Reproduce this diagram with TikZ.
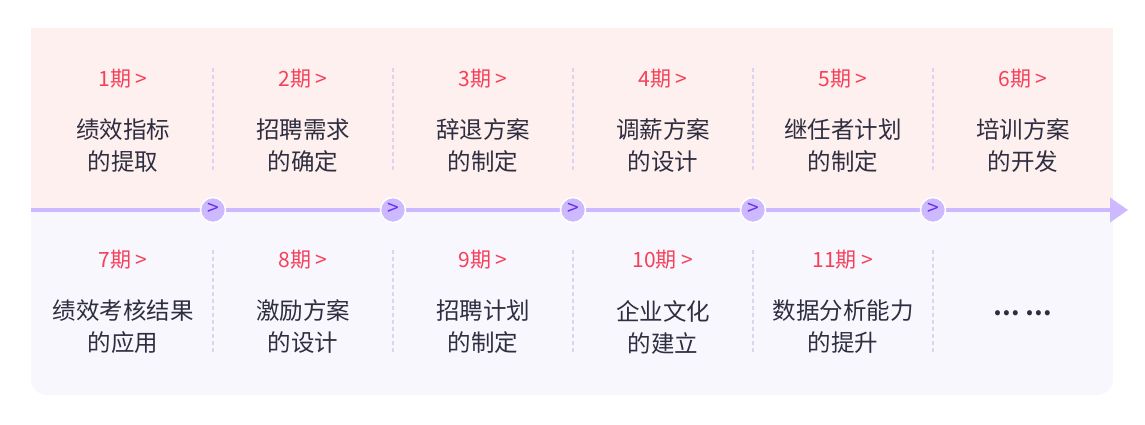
\documentclass[tikz,border=0pt]{standalone}
\usepackage{fontspec}
\setmainfont{Noto Sans CJK SC}
\usetikzlibrary{arrows.meta}
\definecolor{topbg}{HTML}{FEF0EE}
\definecolor{botbg}{HTML}{F8F7FE}
\definecolor{axis}{HTML}{CDB9FF}
\definecolor{chev}{HTML}{6A2FF0}
\definecolor{redt}{HTML}{F5405A}
\definecolor{txt}{HTML}{2E2E40}
\definecolor{sep}{HTML}{DCD2F2}
\begin{document}
\begin{tikzpicture}[x=1pt,y=-1pt,
  lbl/.style={text=redt,font=\fontsize{21}{24}\selectfont,inner sep=0pt},
  body/.style={text=txt,font=\fontsize{23.5}{32}\selectfont,align=center,inner sep=0pt},
  sepline/.style={draw=sep,line width=1.2pt,dash pattern=on 4pt off 3pt},
  dot/.style={circle,fill=axis,draw=white,line width=1.5pt,minimum size=25pt,inner sep=0pt,text=chev,font=\fontsize{21}{21}\selectfont}]
\useasboundingbox (0,0) rectangle (1145,424);
\fill[botbg,rounded corners=16pt] (31,200) rectangle (1113,395);
\fill[botbg] (31,200) rectangle (1113,230);
\fill[topbg] (31,28) rectangle (1113,210);
\coordinate (s) at (31,210);
\coordinate (e) at (1128,210);
\draw[axis,line width=4pt,-{Triangle[length=18pt,width=24pt]}] (s) -- (e);
\foreach \x in {213,393,573,753,933}{
  \draw[sepline] (\x,68) -- (\x,172);
  \draw[sepline] (\x,250) -- (\x,352);
}
\foreach \i/\x in {1/213,2/393,3/573,4/753,5/933}{
  \node[dot] (d\i) at (\x,210) {\raisebox{1pt}{>}};
}
\foreach \i/\x/\t in {1/123/{绩效指标\\的提取},2/303/{招聘需求\\的确定},3/483/{辞退方案\\的制定},4/663/{调薪方案\\的设计},5/843/{继任者计划\\的制定},6/1023/{培训方案\\的开发}}{
  \node[lbl] (t\i) at (\x,79) {{\i}期 >};
  \node[body] (b\i) at (\x,146) {\t};
}
\foreach \i/\x/\t in {7/123/{绩效考核结果\\的应用},8/303/{激励方案\\的设计},9/483/{招聘计划\\的制定},10/663/{企业文化\\的建立},11/843/{数据分析能力\\的提升}}{
  \node[lbl] (t\i) at (\x,260) {{\i}期 >};
  \node[body] (b\i) at (\x,327) {\t};
}
\node[body] (more) at (1023,313) {\textbf{… …}};
\end{tikzpicture}
\end{document}
